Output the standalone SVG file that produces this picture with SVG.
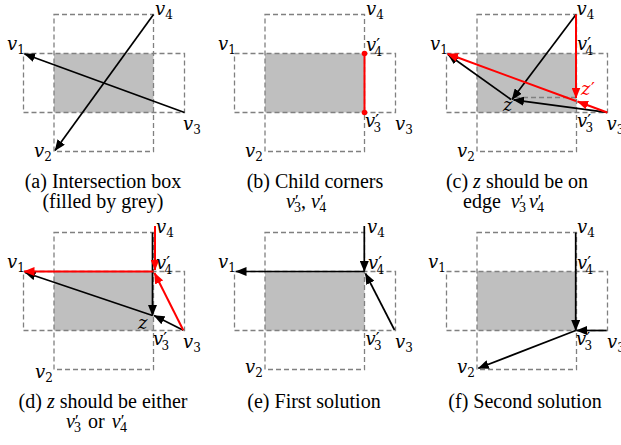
<svg xmlns="http://www.w3.org/2000/svg" width="621" height="445" viewBox="0 0 621 445">
<style>
.box{fill:none;stroke:#808080;stroke-width:1.3;stroke-dasharray:5 3}
.gf{fill:#bfbfbf}
.k{stroke:#000;stroke-width:1.7;fill:none;marker-end:url(#ak)}
.r{stroke:#f00;stroke-width:2;fill:none;marker-end:url(#ar)}
.rl{stroke:#f00;stroke-width:2;fill:none}
.dl{stroke:#808080;stroke-width:1.3;stroke-dasharray:5 3;fill:none}
.m{font-family:"DejaVu Serif","Noto Serif",serif;font-style:italic;font-size:18px;fill:#000}
.s{font-style:normal;font-size:12px}
.p{font-style:normal;font-size:17px}
.red{fill:#f00}
.cap{font-family:"Times New Roman","Liberation Serif",Tinos,serif;font-size:20px;text-anchor:middle;fill:#000}
.cm{font-family:"Times New Roman","Liberation Serif",Tinos,serif;font-size:20px;fill:#000}
.cs{font-style:normal;font-size:14px}
.cp{font-style:normal;font-size:17px}
.i{font-style:italic}
</style>
<defs>
<marker id="ak" markerUnits="userSpaceOnUse" markerWidth="11" markerHeight="9" viewBox="0 0 11 9" refX="10.5" refY="4.5" orient="auto"><path d="M0,0 L11,4.5 L0,9 z" fill="#000"/></marker>
<marker id="ar" markerUnits="userSpaceOnUse" markerWidth="11" markerHeight="9" viewBox="0 0 11 9" refX="10.5" refY="4.5" orient="auto"><path d="M0,0 L11,4.5 L0,9 z" fill="#f00"/></marker>
</defs>

<!-- (a) -->
<g id="panel-a">
<rect class="gf" x="54" y="53.5" width="99.5" height="59"/>
<rect class="box" x="54" y="14.5" width="99.5" height="137"/>
<rect class="box" x="23.5" y="53.5" width="161" height="59"/>
<g id="a-connectors">
<path class="k" d="M184.5,112.5 L24.5,54"/>
<path class="k" d="M153.5,14.5 L55,150.5"/>
</g>
<g id="a-labels">
<text class="m" x="155" y="15">v<tspan class="s" dy="4">4</tspan></text>
<text class="m" x="7" y="50">v<tspan class="s" dy="4">1</tspan></text>
<text class="m" x="183" y="130">v<tspan class="s" dy="4">3</tspan></text>
<text class="m" x="34" y="157">v<tspan class="s" dy="4">2</tspan></text>
</g>
</g>

<!-- (b) -->
<g id="panel-b" transform="translate(211,0)">
<rect class="gf" x="54" y="53.5" width="99.5" height="59"/>
<rect class="box" x="54" y="14.5" width="99.5" height="137"/>
<rect class="box" x="23.5" y="53.5" width="161" height="59"/>
<g id="b-connectors">
<path class="rl" d="M153.5,53.5 V112.5"/>
<circle cx="153.5" cy="53.5" r="2.8" fill="#f00"/>
<circle cx="153.5" cy="112.5" r="2.8" fill="#f00"/>
</g>
<g id="b-labels">
<text class="m" x="155" y="15">v<tspan class="s" dy="4">4</tspan></text>
<text class="m" x="7" y="50">v<tspan class="s" dy="4">1</tspan></text>
<text class="m" x="184" y="130">v<tspan class="s" dy="4">3</tspan></text>
<text class="m" x="34" y="157">v<tspan class="s" dy="4">2</tspan></text>
<text class="m" x="155" y="51">v<tspan class="p" dx="0" dy="-1">′</tspan><tspan class="s" dx="-5.5" dy="6">4</tspan></text>
<text class="m" x="154" y="127">v<tspan class="p" dx="0" dy="-1">′</tspan><tspan class="s" dx="-5.5" dy="6">3</tspan></text>
</g>
</g>

<!-- (c) -->
<g id="panel-c" transform="translate(423,0)">
<rect class="gf" x="54" y="53.5" width="99.5" height="59"/>
<rect class="box" x="54" y="14.5" width="99.5" height="137"/>
<rect class="box" x="23.5" y="53.5" width="161" height="59"/>
<g id="c-connectors">
<path class="dl" d="M92,97.5 L153,97.5"/>
<path class="k" d="M153,14.5 L89,99.5"/>
<path class="k" d="M184,112.3 L90.5,99.8"/>
<path class="k" d="M88,99.5 L25,54.5"/>
<path class="r" d="M153,14.5 L153,98"/>
<path class="r" d="M184.3,112.5 L154.5,101.5"/>
<path class="r" d="M153,101 L24.5,53.8"/>
</g>
<g id="c-labels">
<text class="m" x="153.5" y="15">v<tspan class="s" dy="4">4</tspan></text>
<text class="m" x="7" y="50">v<tspan class="s" dy="4">1</tspan></text>
<text class="m" x="183.5" y="130">v<tspan class="s" dy="4">3</tspan></text>
<text class="m" x="34" y="157">v<tspan class="s" dy="4">2</tspan></text>
<text class="m" x="154" y="50">v<tspan class="p" dx="0" dy="-1">′</tspan><tspan class="s" dx="-5.5" dy="6">4</tspan></text>
<text class="m" x="154" y="127">v<tspan class="p" dx="0" dy="-1">′</tspan><tspan class="s" dx="-5.5" dy="6">3</tspan></text>
<text class="m" x="80" y="111">z</text>
<text class="m red" x="158" y="95">z<tspan class="p" dx="0.5" dy="-1">′</tspan></text>
</g>
</g>

<!-- (d) -->
<g id="panel-d" transform="translate(0,218)">
<rect class="gf" x="54" y="53.5" width="99.5" height="59"/>
<rect class="box" x="54" y="14.5" width="99.5" height="137"/>
<rect class="box" x="23.5" y="53.5" width="161" height="59"/>
<g id="d-connectors">
<path class="k" d="M152.5,14.5 L152.5,97.5"/>
<path class="k" d="M183.3,112.3 L154,97.5"/>
<path class="k" d="M152.5,97.5 L25,54.5"/>
<path class="r" d="M155,8 L155,52"/>
<path class="r" d="M183.3,112.3 L154.5,55"/>
<path class="r" d="M153.5,53.5 L24,53.5"/>
</g>
<g id="d-labels">
<text class="m" x="156" y="15">v<tspan class="s" dy="4">4</tspan></text>
<text class="m" x="7" y="50">v<tspan class="s" dy="4">1</tspan></text>
<text class="m" x="183" y="130">v<tspan class="s" dy="4">3</tspan></text>
<text class="m" x="35" y="160">v<tspan class="s" dy="4">2</tspan></text>
<text class="m" x="156" y="51">v<tspan class="p" dx="0" dy="-1">′</tspan><tspan class="s" dx="-5.5" dy="6">4</tspan></text>
<text class="m" x="153" y="127">v<tspan class="p" dx="0" dy="-1">′</tspan><tspan class="s" dx="-5.5" dy="6">3</tspan></text>
<text class="m" x="138" y="111">z</text>
</g>
</g>

<!-- (e) -->
<g id="panel-e" transform="translate(211,218)">
<rect class="gf" x="54" y="53.5" width="99.5" height="59"/>
<rect class="box" x="54" y="14.5" width="99.5" height="137"/>
<rect class="box" x="23.5" y="53.5" width="161" height="59"/>
<g id="e-connectors">
<path class="k" d="M153.3,8 L153.3,53.5"/>
<path class="k" d="M153.5,53.5 L25,53.5"/>
<path class="k" d="M183.5,112 L154.5,55.5"/>
</g>
<g id="e-labels">
<text class="m" x="156" y="15">v<tspan class="s" dy="4">4</tspan></text>
<text class="m" x="7" y="50">v<tspan class="s" dy="4">1</tspan></text>
<text class="m" x="184" y="130">v<tspan class="s" dy="4">3</tspan></text>
<text class="m" x="34" y="155">v<tspan class="s" dy="4">2</tspan></text>
<text class="m" x="157" y="51">v<tspan class="p" dx="0" dy="-1">′</tspan><tspan class="s" dx="-5.5" dy="6">4</tspan></text>
<text class="m" x="154.5" y="127">v<tspan class="p" dx="0" dy="-1">′</tspan><tspan class="s" dx="-5.5" dy="6">3</tspan></text>
</g>
</g>

<!-- (f) -->
<g id="panel-f" transform="translate(423,218)">
<rect class="gf" x="54" y="53.5" width="99.5" height="59"/>
<rect class="box" x="54" y="14.5" width="99.5" height="137"/>
<rect class="box" x="23.5" y="53.5" width="161" height="59"/>
<g id="f-connectors">
<path class="k" d="M152.7,14.5 L152.7,112.5"/>
<path class="k" d="M183.7,112.5 L153.5,112.5"/>
<path class="k" d="M152.7,112.5 L55.3,150.3"/>
</g>
<g id="f-labels">
<text class="m" x="154" y="15">v<tspan class="s" dy="4">4</tspan></text>
<text class="m" x="5" y="50">v<tspan class="s" dy="4">1</tspan></text>
<text class="m" x="184" y="130">v<tspan class="s" dy="4">3</tspan></text>
<text class="m" x="34" y="155">v<tspan class="s" dy="4">2</tspan></text>
<text class="m" x="154" y="51">v<tspan class="p" dx="0" dy="-1">′</tspan><tspan class="s" dx="-5.5" dy="6">4</tspan></text>
<text class="m" x="153" y="127">v<tspan class="p" dx="0" dy="-1">′</tspan><tspan class="s" dx="-5.5" dy="6">3</tspan></text>
</g>
</g>

<!-- captions -->
<g id="captions">
<text class="cap" x="103" y="188">(a) Intersection box</text>
<text class="cap" x="103" y="208">(filled by grey)</text>
<text class="cap" x="315" y="188">(b) Child corners</text>
<text class="cm" x="286" y="208"><tspan class="i">v</tspan><tspan class="cp" dx="0" dy="-2">′</tspan><tspan class="cs" dx="-4.5" dy="6">3</tspan><tspan dy="-4">, </tspan><tspan class="i">v</tspan><tspan class="cp" dx="0" dy="-2">′</tspan><tspan class="cs" dx="-4.5" dy="6">4</tspan></text>
<text class="cap" x="517" y="188">(c) <tspan class="i">z</tspan> should be on</text>
<text class="cm" x="463" y="208">edge <tspan class="i" dx="5">v</tspan><tspan class="cp" dx="0" dy="-2">′</tspan><tspan class="cs" dx="-4.5" dy="6">3</tspan><tspan class="i" dx="3" dy="-4">v</tspan><tspan class="cp" dx="0" dy="-2">′</tspan><tspan class="cs" dx="-4.5" dy="6">4</tspan></text>
<text class="cap" x="103" y="408">(d) <tspan class="i">z</tspan> should be either</text>
<text class="cm" x="66" y="428"><tspan class="i">v</tspan><tspan class="cp" dx="0" dy="-2">′</tspan><tspan class="cs" dx="-4.5" dy="6">3</tspan><tspan dx="2" dy="-4"> or </tspan><tspan class="i" dx="2">v</tspan><tspan class="cp" dx="0" dy="-2">′</tspan><tspan class="cs" dx="-4.5" dy="6">4</tspan></text>
<text class="cap" x="314" y="408">(e) First solution</text>
<text class="cap" x="525" y="408">(f) Second solution</text>
</g>
</svg>
